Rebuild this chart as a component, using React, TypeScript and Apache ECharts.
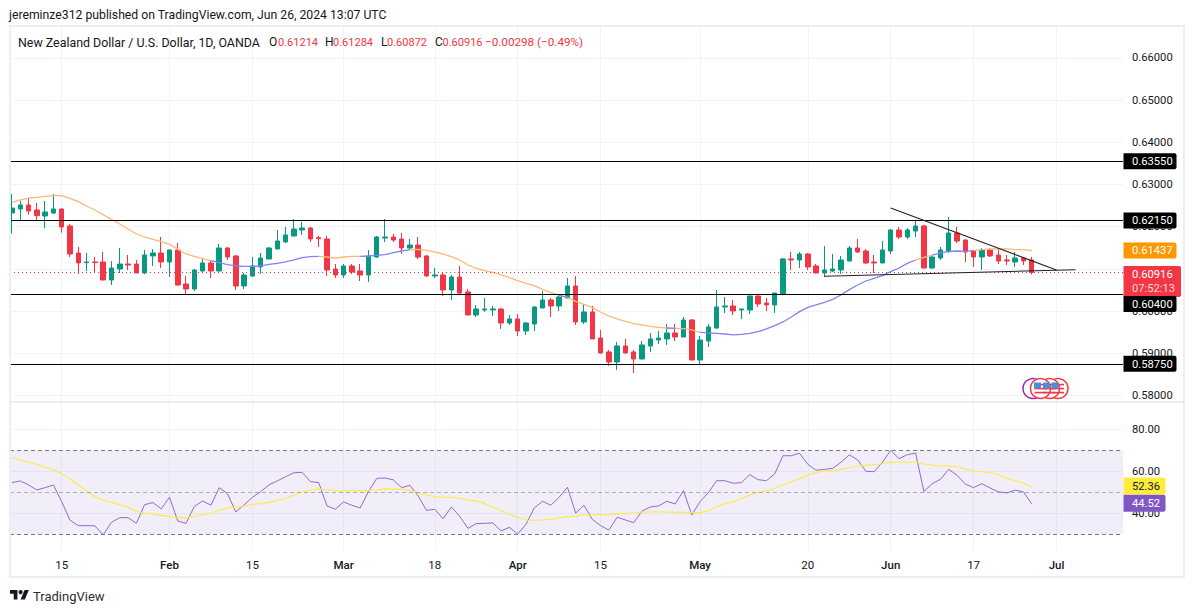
import React, { useEffect, useRef } from "react";
import * as echarts from "echarts";

const GREEN = "#089981";
const RED = "#f23645";
const INK = "#131722";
const GRIDLINE = "#f0f3fa";
const FONT = "Roboto, sans-serif";
const NUM_SIZE = 11.2;

// open, close, low, high by trading day from 2024-01-05 to 2024-06-26
const ohlc = [
[.62326,.62444,.61836,.62776],[.62421,.62516,.62144,.62618],[.62516,.62373,.62286,.62681],[.62397,.62263,.6216,.62563],[.62255,.6235,.6197,.6261],
[.62326,.62421,.62302,.62776],[.62421,.61994,.6186,.6243],[.62018,.61354,.61283,.62065],[.61378,.61141,.6088,.6152],[.61149,.61165,.60951,.61378],
[.61165,.61149,.60904,.61283],[.61165,.60738,.6073,.61402],[.60738,.61022,.6062,.61188],[.60999,.61117,.60904,.61496],[.61117,.61093,.60975,.61331],
[.61117,.60904,.609,.61212],[.60904,.61331,.6088,.61449],[.61307,.61378,.6107,.61473],[.61378,.61165,.61022,.61757],[.61165,.61449,.60809,.61455],
[.61449,.6062,.60596,.61615],[.60643,.60525,.6039,.60833],[.60525,.60975,.60477,.60999],[.60951,.61141,.60904,.61259],[.61141,.60951,.60785,.61212],
[.60951,.61496,.60945,.61591],[.61496,.61283,.61212,.6152],[.61307,.60596,.60501,.61331],[.60596,.60856,.60525,.60904],[.60833,.6107,.60809,.61283],
[.61046,.61259,.6088,.61378],[.61236,.61496,.6123,.6152],[.61473,.61662,.61465,.61923],[.61639,.61805,.61615,.61994],[.61781,.61947,.61775,.62184],
[.61923,.6197,.61805,.62113],[.6197,.6171,.61639,.61994],[.61741,.61718,.6152,.61781],[.6171,.60975,.60833,.61781],[.60999,.60856,.60785,.61117],
[.60856,.6107,.60785,.61117],[.6107,.60928,.6088,.61117],[.60951,.60856,.60714,.61117],[.60856,.61307,.60691,.61449],[.61283,.61757,.61259,.61781],
[.61733,.61757,.61639,.62184],[.61757,.61686,.61639,.61828],[.6171,.61496,.61354,.61852],[.61496,.61567,.61449,.6171],[.61567,.61283,.61236,.61757],
[.61307,.60833,.60809,.61331],[.60833,.60857,.60785,.61022],[.60857,.60501,.60359,.60904],[.60501,.60809,.60264,.60857],[.60809,.6043,.60382,.6107],
[.60454,.59909,.599,.60525],[.59909,.60051,.59861,.60146],[.60027,.60051,.5998,.60311],[.60027,.60051,.59885,.60122],[.60051,.59719,.59577,.60074],
[.59719,.59814,.59672,.59909],[.59814,.59529,.59411,.59932],[.59529,.59719,.59434,.59743],[.59695,.60098,.59529,.60122],[.60074,.60264,.60068,.60477],
[.60264,.60122,.59861,.60311],[.60122,.60335,.60003,.60382],[.60311,.60596,.60305,.60785],[.60596,.59743,.59672,.60833],[.59743,.5998,.59695,.60146],
[.5998,.5934,.59335,.60122],[.59363,.59008,.58984,.59553],[.59032,.58795,.587,.59079],[.58795,.59174,.58605,.59269],[.59174,.59008,.59,.5934],
[.59032,.58866,.58534,.59079],[.58866,.59198,.5886,.59292],[.59174,.5934,.59032,.59482],[.59316,.59363,.59221,.59529],[.5934,.59482,.59198,.59695],
[.59482,.59387,.59292,.59695],[.59387,.5979,.5938,.59861],[.5979,.58842,.58835,.59814],[.58842,.59316,.58747,.59411],[.59292,.59624,.5915,.59695],
[.596,.60098,.59577,.60501],[.60098,.60122,.59956,.60335],[.60122,.60003,.59909,.60264],[.60027,.60051,.59814,.6006],[.60027,.60359,.59932,.60365],
[.60359,.60169,.60098,.60406],[.60193,.60146,.60003,.60311],[.60146,.6043,.59956,.60436],[.60398,.61236,.60375,.61259],[.61236,.61212,.60975,.61402],
[.61212,.61354,.61022,.61402],[.61354,.61046,.60975,.61378],[.6107,.60904,.60896,.61117],[.60904,.60975,.60809,.61544],[.60951,.60999,.60928,.61354],
[.60975,.61212,.6088,.61307],[.61188,.61496,.6118,.61544],[.61496,.61402,.61378,.6171],[.61425,.61141,.61117,.61473],[.61165,.61141,.60904,.6133],
[.61141,.61449,.61135,.61662],[.61425,.61923,.61354,.61947],[.61923,.61757,.6171,.61994],[.61757,.61923,.6171,.6197],[.61899,.62018,.61757,.6216],
[.62018,.61022,.61015,.62042],[.61022,.61283,.60999,.61307],[.61259,.61449,.61212,.6152],[.61425,.61852,.61378,.62231],[.61852,.61662,.61615,.61994],
[.61686,.61402,.61165,.6171],[.61425,.61283,.61046,.61449],[.61283,.61449,.60975,.61496],[.61449,.61307,.61283,.61496],[.6133,.61188,.61117,.61496],
[.61212,.61188,.61094,.6133],[.61165,.61259,.61046,.61402],[.61259,.61188,.61094,.61283],[.61214,.60916,.60872,.61284],
];

const ma = [
.62579,.62634,.62681,.62697,.62721,.62737,.62737,.62674,.62595,.62492,.62397,.62286,.62176,.62065,.61947,.61828,.61757,.61702,.61647,.61583,
.61465,.61354,.61299,.61244,.61196,.61149,.61101,.6107,.61062,.61062,.6107,.61109,.61133,.61165,.61212,.61267,.61291,.61299,.61283,.61259,
.61283,.61299,.61299,.61307,.61323,.61338,.61386,.61425,.61457,.61465,.61441,.61402,.61354,.61291,.61212,.61093,.61015,.60959,.6092,.60857,
.60793,.60722,.60659,.60604,.60517,.60438,.60375,.60327,.60232,.60161,.60082,.5998,.59885,.59814,.59758,.59703,.59672,.5964,.59616,.596,
.59593,.59585,.59553,.59498,.59482,.59474,.59458,.59435,.5945,.59474,.59513,.59577,.59656,.59743,.59861,.59988,.6009,.60146,.60209,.6028,
.60383,.60509,.6062,.60714,.60778,.60841,.60936,.61022,.61133,.61212,.61275,.6133,.61378,.61417,.61425,.61417,.61433,.61457,.61473,.61473,
.61473,.61457,.61457,.61437,
];
const maAboveSpans = [[0,24],[37,42],[48,66],[67,79],[80,83],[109,111],[116,123]];
const maBelowSpans = [[24,37],[42,48],[66,67],[79,80],[83,109],[111,116]];

const rsi = [
54.6,55.4,53.5,51.1,52.2,53.5,45.5,36.7,34.1,34.1,34.0,29.7,35.7,37.9,37.9,35.2,44.1,45.1,42.1,47.6,
36.3,35.2,43.3,45.9,43.8,52.2,49.3,40.6,44.0,47.6,50.3,53.5,55.4,57.4,59.3,59.5,55.1,54.6,43.5,41.9,
45.4,43.8,42.5,50.3,56.6,56.8,55.9,52.2,53.3,48.2,41.4,41.9,37.4,43.0,38.6,32.8,35.1,35.2,35.4,31.6,
33.3,30.1,34.7,42.5,45.7,43.8,47.6,52.4,40.1,43.8,37.1,34.1,32.0,38.1,36.8,35.5,41.1,43.0,43.5,45.7,
44.4,50.8,39.2,45.5,49.8,55.5,55.5,54.3,54.6,58.4,56.0,55.5,58.7,67.4,67.4,68.6,63.3,60.5,60.9,61.4,
64.3,67.8,65.5,60.0,59.8,64.3,70.0,66.0,67.9,68.7,50.3,54.1,56.2,60.9,58.1,53.9,52.2,54.1,52.0,50.2,
49.7,51.0,50.2,44.52,
];
const rsiMa = [
66.6,65.4,64.4,63.2,61.9,60.6,58.9,56.2,53.5,50.6,47.9,46.2,45.1,44.1,43.0,40.8,40.1,39.7,39.0,38.4,
37.9,37.8,38.6,39.3,40.0,41.4,42.5,42.8,43.5,44.3,44.6,45.2,46.2,47.0,48.6,50.3,51.1,51.6,51.2,50.8,
50.6,50.8,50.8,50.9,51.2,51.6,51.4,51.4,50.8,49.8,48.7,47.8,47.6,47.6,47.1,46.3,45.9,44.7,43.0,41.3,
39.5,38.1,36.8,36.7,36.8,37.1,37.9,38.4,38.6,39.2,39.3,39.3,39.2,39.7,40.0,40.1,40.6,40.6,40.6,40.6,
40.5,40.5,40.3,40.3,41.3,43.0,44.6,45.5,47.0,48.7,49.8,50.6,51.9,53.5,54.9,56.5,58.2,59.4,60.0,60.5,
60.9,61.7,62.5,62.8,63.2,63.6,64.3,64.3,64.3,64.3,63.5,63.0,62.5,62.5,62.2,61.1,60.1,59.8,59.4,58.2,
56.8,55.5,54.3,52.36,
];

const dateTickIndex = [6, 19, 29, 40, 51, 61, 71, 83, 96, 106, 116, 126];
const dateTickLabel = ["15", "Feb", "15", "Mar", "18", "Apr", "15", "May", "20", "Jun", "17", "Jul"];
const monthTicks = ["Feb", "Mar", "Apr", "May", "Jun", "Jul"];
const priceGrid = [0.58, 0.59, 0.6, 0.61, 0.62, 0.63, 0.64, 0.65, 0.66];
// 0.61000 sits fully behind the last-price tag in the reference
const priceLabels = [0.58, 0.59, 0.6, 0.62, 0.63, 0.64, 0.65, 0.66];
const rsiTicks = [40, 60, 80];
const supportResistance = [0.6355, 0.6215, 0.604, 0.5875];
const lastClose = 0.60916;
const lastMa = 0.61437;
const lastRsi = 44.52;
const lastRsiMa = 52.36;
const rsiBands = [70, 50, 30];
// [start index, start price, end index, end price]
const trendLines = [
  [106, 0.62445, 126, 0.60975],
  [98, 0.60826, 128.3, 0.60982],
];

const LOGO_PATH = "M14 22H7V11H0V4h14v18zM28 22h-8l7.5-18h8L28 22z";

function spanSeries(values: number[], spans: number[][]) {
  return values.map((v, i) => [i, spans.some(([a, b]) => i >= a && i <= b) ? v : null]);
}

function text(str: string, x: number, y: number, fill: string, fontSize = 12, align = "left", fontWeight = "normal") {
  return {
    type: "text", x, y, z: 120, silent: true,
    style: { text: str, fill, fontSize, fontFamily: FONT, align, verticalAlign: "middle", fontWeight },
  };
}

function tag(str: string, y: number, bg: string, fg: string, width = 53, height = 16) {
  return [
    { type: "rect", z: 110, silent: true, shape: { x: 1123.5, y: y - height / 2, width, height, r: [0, 2, 2, 0] }, style: { fill: bg } },
    text(str, 1132, y + 0.5, fg, NUM_SIZE),
  ];
}

function flagBadge(cx: number, cy: number) {
  const stripes = [-4, 0, 4].map((dy) => ({
    type: "rect", z: 105, silent: true,
    shape: { x: cx - 6, y: cy + dy - 0.7, width: 12, height: 1.6 }, style: { fill: RED },
  }));
  return [
    { type: "circle", z: 103, silent: true, shape: { cx, cy, r: 10 }, style: { fill: "#fff", stroke: RED, lineWidth: 1.5 } },
    ...stripes,
    { type: "rect", z: 106, silent: true, shape: { x: cx - 6.5, y: cy - 6, width: 7, height: 6 }, style: { fill: "#4a90d9" } },
  ];
}

export default function App() {
  const ref = useRef<HTMLDivElement>(null);
  useEffect(() => {
    const chart = echarts.init(ref.current!, undefined, { renderer: "svg" });
    echarts.graphic.registerShape("tvlogo", echarts.graphic.extendPath(LOGO_PATH, {}) as any);

    const xCommon = {
      type: "value", min: -0.24, max: 134.02,
      axisLine: { show: false },
      axisTick: { show: false, customValues: dateTickIndex },
      splitLine: { show: true, lineStyle: { color: GRIDLINE, width: 1 } },
    };

    chart.setOption({
      animation: false,
      backgroundColor: "#fff",
      tooltip: { show: false },
      grid: [
        { left: 10, top: 26, width: 1113, height: 376 },
        { left: 10, top: 402, width: 1113, height: 148 },
      ],
      xAxis: [
        { ...xCommon, gridIndex: 0, axisLabel: { show: false, customValues: dateTickIndex } },
        {
          ...xCommon, gridIndex: 1,
          axisLabel: {
            show: true, customValues: dateTickIndex, margin: 9,
            color: INK, fontSize: 11.5, fontFamily: FONT,
            formatter: (v: number) => {
              const s = dateTickLabel[dateTickIndex.indexOf(v)] ?? "";
              return monthTicks.includes(s) ? `{m|${s}}` : s;
            },
            rich: { m: { color: INK, fontSize: 11.5, fontFamily: FONT, fontWeight: 500 } },
          },
        },
      ],
      yAxis: [
        {
          type: "value", gridIndex: 0, position: "right", min: 0.57846, max: 0.66758,
          axisLine: { show: false },
          axisTick: { show: false, customValues: priceGrid },
          splitLine: { show: true, lineStyle: { color: GRIDLINE } },
          axisLabel: { customValues: priceLabels, color: INK, fontSize: NUM_SIZE, fontFamily: FONT, margin: 9, formatter: (v: number) => v.toFixed(5) },
        },
        {
          type: "value", gridIndex: 1, position: "right", min: 22.5, max: 93,
          axisLine: { show: false },
          axisTick: { show: false, customValues: rsiTicks },
          splitLine: { show: true, lineStyle: { color: GRIDLINE } },
          axisLabel: { customValues: rsiTicks, color: INK, fontSize: NUM_SIZE, fontFamily: FONT, margin: 9, formatter: (v: number) => v.toFixed(2) },
        },
      ],
      series: [
        {
          type: "candlestick", name: "NZDUSD", xAxisIndex: 0, yAxisIndex: 0, barWidth: 5, z: 3,
          data: ohlc.map((row, i) => [i, ...row]),
          itemStyle: { color: GREEN, color0: RED, borderColor: GREEN, borderColor0: RED, borderWidth: 1 },
          markLine: {
            silent: true, symbol: "none", animation: false, z: 6, precision: 5,
            label: { show: false },
            lineStyle: { color: "#000", width: 1, type: "solid" },
            data: [
              ...supportResistance.map((yAxis) => ({ yAxis })),
              { yAxis: lastClose, lineStyle: { color: RED, width: 1, type: [1, 3], opacity: 1 } },
              ...trendLines.map(([x0, y0, x1, y1]) => [
                { coord: [x0, y0], lineStyle: { color: "#222", width: 1.1, type: "solid" } },
                { coord: [x1, y1] },
              ]),
            ],
          },
        },
        {
          type: "line", name: "MA above", xAxisIndex: 0, yAxisIndex: 0, z: 4, showSymbol: false, symbol: "none",
          data: spanSeries(ma, maAboveSpans), lineStyle: { color: "#ffb778", width: 1.3 },
        },
        {
          type: "line", name: "MA below", xAxisIndex: 0, yAxisIndex: 0, z: 4, showSymbol: false, symbol: "none",
          data: spanSeries(ma, maBelowSpans), lineStyle: { color: "#8482f2", width: 1.3 },
        },
        {
          type: "line", name: "RSI", xAxisIndex: 1, yAxisIndex: 1, z: 4, showSymbol: false, symbol: "none",
          data: rsi.map((v, i) => [i, v]), lineStyle: { color: "#8e6bcc", width: 1 },
          markArea: {
            silent: true,
            itemStyle: { color: "rgba(126,87,194,0.1)" },
            data: [[{ yAxis: rsiBands[0] }, { yAxis: rsiBands[2] }]],
          },
          markLine: {
            silent: true, symbol: "none", animation: false, label: { show: false },
            lineStyle: { color: "#787b86", width: 1, type: [4, 3] },
            data: [
              { yAxis: rsiBands[0] },
              { yAxis: rsiBands[1], lineStyle: { color: "rgba(120,123,134,0.55)", width: 1, type: [4, 3] } },
              { yAxis: rsiBands[2] },
            ],
          },
        },
        {
          type: "line", name: "RSI MA", xAxisIndex: 1, yAxisIndex: 1, z: 4, showSymbol: false, symbol: "none",
          data: rsiMa.map((v, i) => [i, v]), lineStyle: { color: "#ffeb3b", width: 1.1 },
        },
      ],
    });

    const py = (v: number) => chart.convertToPixel({ yAxisIndex: 0 }, v) as number;
    const ry = (v: number) => chart.convertToPixel({ yAxisIndex: 1 }, v) as number;
    const closeY = py(lastClose);

    chart.setOption({
      graphic: [
        { type: "rect", z: 90, silent: true, shape: { x: 10, y: 26, width: 1174, height: 551 }, style: { fill: "none", stroke: "#eceef4", lineWidth: 2 } },
        { type: "line", z: 90, silent: true, shape: { x1: 10, y1: 402, x2: 1184, y2: 402 }, style: { stroke: "#e6e8f0", lineWidth: 1.5 } },

        text("jereminze312 published on TradingView.com, Jun 26, 2024 13:07 UTC", 9, 14.5, INK, 12.23),
        text("New Zealand Dollar / U.S. Dollar, 1D, OANDA", 18, 42, INK, 12.4),
        text("O", 269, 42, INK, 12), text("0.61214", 278, 42, RED, 11),
        text("H", 325, 42, INK, 12), text("0.61284", 333, 42, RED, 11),
        text("L", 381, 42, INK, 12), text("0.60872", 387, 42, RED, 11),
        text("C", 435, 42, INK, 12), text("0.60916", 442.5, 42, RED, 11),
        text("\u22120.00298 (\u22120.49%)", 485, 42, RED, 11.7),

        ...tag("0.63550", py(0.6355), "#000", "#fff"),
        ...tag("0.62150", py(0.6215), "#000", "#fff"),
        ...tag("0.61437", py(lastMa), "#ff9800", "#fff"),
        { type: "rect", z: 110, silent: true, shape: { x: 1123.5, y: closeY - 6.4, width: 57.5, height: 31, r: [0, 2, 2, 0] }, style: { fill: RED } },
        text("0.60916", 1132, closeY + 2, "#fff", NUM_SIZE),
        text("07:52:13", 1132, closeY + 16.5, "rgba(255,255,255,0.8)", NUM_SIZE),
        ...tag("0.60400", py(0.604) + 9.8, "#000", "#fff"),
        ...tag("0.58750", py(0.5875), "#000", "#fff"),

        ...tag("52.36", ry(lastRsiMa) - 1.2, "#ffeb3b", INK, 42, 17),
        ...tag("44.52", ry(lastRsi) - 0.5, "#7e57c2", "#fff", 42, 17),

        { type: "circle", z: 102, silent: true, shape: { cx: 1033, cy: 388.5, r: 10 }, style: { fill: "#fff", stroke: "#9c27b0", lineWidth: 1.5 } },
        ...flagBadge(1058, 388.5),
        ...flagBadge(1049.5, 388.5),
        ...flagBadge(1040.5, 388.5),

        { type: "tvlogo", x: 10, y: 587.9, scaleX: 0.53, scaleY: 0.53, z: 100, silent: true, style: { fill: INK } },
        { type: "circle", z: 100, silent: true, shape: { cx: 20.6, cy: 592.1, r: 2.1 }, style: { fill: INK } },
        text("TradingView", 33, 596, "#2a2e39", 13),
      ],
    });
    return () => chart.dispose();
  }, []);
  return <div ref={ref} style={{ position: "absolute", left: 0, top: 0, width: 1195, height: 613 }} />;
}
